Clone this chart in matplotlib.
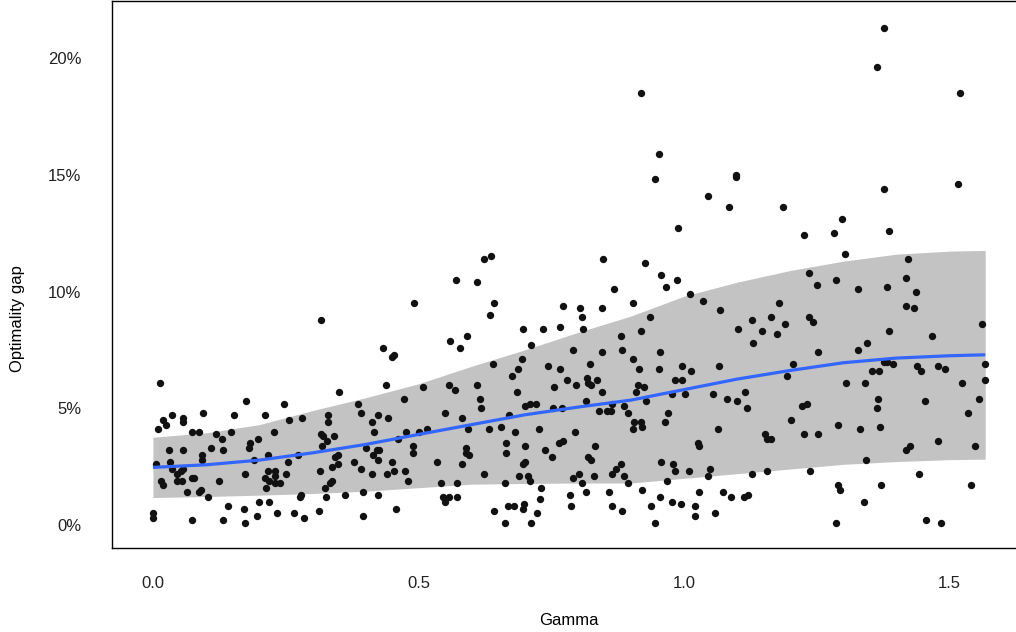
#!/usr/bin/env python

# Optimality gap against gamma, with a smoothed trend and its band

import numpy

import matplotlib
from matplotlib.backends.backend_agg import \
                 FigureCanvasAgg as FigureCanvas
from matplotlib.figure import Figure
from matplotlib.ticker import FuncFormatter

# Individual runs: gamma and optimality gap (%)
gamma = [
    1.377, 1.363, 1.520, 0.918, 0.953, 0.945, 1.098, 1.097, 1.377, 1.515,
    1.046, 1.084, 1.187, 1.298, 1.283, 1.225, 1.385, 0.989, 1.303, 1.422,
    0.847, 0.927, 0.957, 0.987, 0.966, 0.868, 1.011, 1.235, 1.417, 1.251,
    1.287, 1.327, 1.383, 1.437, 1.417, 1.433, 1.035, 1.068, 0.903, 0.846,
    0.804, 0.807, 0.935, 1.178, 1.164, 1.128, 1.190, 1.235, 1.243, 1.102,
    0.918, 0.809, 1.561, 1.146, 1.175, 1.385,
    0.624, 0.637, 0.571, 0.610, 0.492, 0.643, 0.635, 0.316, 0.772, 0.696,
    0.735, 0.766, 0.591,
    0.014, 0.175, 0.247, 0.018, 0.036, 0.057, 0.057, 0.095, 0.025, 0.009,
    0.074, 0.087, 0.118, 0.146, 0.153, 0.211, 0.257, 0.281, 0.227,
    0.559, 0.579, 0.434, 0.450, 0.453, 0.350, 0.439, 0.509, 0.557, 0.569,
    0.611, 0.615, 0.618, 0.472, 0.387, 0.330, 0.330, 0.392, 0.423, 0.412,
    0.443, 0.550, 0.582, 0.593, 0.417, 0.477, 0.501, 0.516, 0.317, 0.341,
    0.881, 0.711, 0.790, 0.845, 0.884, 0.640, 0.694, 0.687, 0.676, 0.743,
    0.766, 0.822, 0.904, 0.915, 0.779, 0.797, 0.817, 0.820, 0.824, 0.837,
    0.755, 0.845, 0.685, 0.913, 0.925, 0.909, 0.928, 0.816, 0.701, 0.709,
    0.722, 0.753, 0.770, 0.864, 0.840, 0.854, 0.863, 0.886, 0.895, 0.670,
    0.906, 0.918, 0.921, 0.903, 0.633, 0.655, 0.681, 0.726, 0.795,
    1.129, 0.954, 1.252, 0.952, 0.996, 1.013, 1.066, 1.206, 1.193, 0.982,
    0.996, 0.977, 1.002, 1.055, 1.080, 1.100, 1.114, 1.118, 1.223, 1.232,
    0.969, 0.965, 1.202, 1.063, 1.152, 1.225, 1.252,
    1.466, 1.345, 1.327, 1.376, 1.382, 1.394, 1.439, 1.446, 1.478, 1.492,
    1.566, 1.353, 1.367, 1.304, 1.341, 1.524, 1.566, 1.366, 1.364, 1.454,
    1.556, 1.534, 1.289, 1.332, 1.368,
    0.130, 0.197, 0.183, 0.180, 0.110, 0.132, 0.031, 0.057, 0.093, 0.093,
    0.217, 0.273, 0.190, 0.255, 0.006, 0.033, 0.035, 0.045, 0.052, 0.057,
    0.174, 0.217, 0.230, 0.250, 0.211, 0.218, 0.230, 0.230, 0.240, 0.045,
    0.055, 0.073, 0.078, 0.125, 0.015, 0.018, 0.213, 0.065, 0.087, 0.090,
    0.104, 0.279, 0.277, 0.199, 0.218, 0.142, 0.171, 0.001, 0.001, 0.074,
    0.131, 0.173, 0.195, 0.233, 0.266, 0.284,
    0.321, 0.328, 0.318, 0.461, 0.402, 0.490, 0.490, 0.589, 0.590, 0.596,
    0.421, 0.426, 0.415, 0.424, 0.343, 0.349, 0.378, 0.450, 0.535, 0.581,
    0.338, 0.348, 0.391, 0.315, 0.413, 0.441, 0.454, 0.475, 0.480, 0.623,
    0.334, 0.338, 0.324, 0.543, 0.572, 0.395, 0.362, 0.424, 0.325, 0.546,
    0.557, 0.572, 0.549, 0.313, 0.457, 0.395,
    0.665, 0.665, 0.701, 0.738, 0.752, 0.765, 0.772, 0.832, 0.819, 0.825,
    0.696, 0.700, 0.690, 0.707, 0.709, 0.790, 0.802, 0.807, 0.831, 0.865,
    0.871, 0.881, 0.886, 0.894, 0.662, 0.731, 0.728, 0.785, 0.816, 0.859,
    0.921, 0.643, 0.669, 0.679, 0.698, 0.696, 0.724, 0.788, 0.865, 0.883,
    0.937, 0.662, 0.711, 0.945,
    1.157, 1.164, 1.027, 1.029, 0.957, 0.980, 0.982, 1.009, 1.048, 1.046,
    1.128, 1.156, 1.238, 0.967, 0.955, 0.978, 0.995, 1.021, 1.029, 1.073,
    1.089, 1.112, 1.121, 1.020, 1.059,
    1.478, 1.425, 1.417, 1.548, 1.342, 1.442, 1.290, 1.293, 1.370, 1.541,
    1.338, 1.287, 1.456, 1.483,
]
gap = [
    21.3, 19.6, 18.5, 18.5, 15.9, 14.8, 15.0, 14.9, 14.4, 14.6,
    14.1, 13.6, 13.6, 13.1, 12.5, 12.4, 12.6, 12.7, 11.6, 11.4,
    11.4, 11.2, 10.7, 10.5, 10.2, 10.1, 9.9, 10.8, 10.6, 10.3,
    10.5, 10.1, 10.2, 10.0, 9.4, 9.3, 9.6, 9.2, 9.5, 9.3,
    9.3, 8.9, 8.9, 9.5, 8.9, 8.8, 8.6, 8.9, 8.7, 8.4,
    8.3, 8.4, 8.6, 8.3, 8.2, 8.3,
    11.4, 11.5, 10.5, 10.4, 9.5, 9.5, 9.0, 8.8, 9.4, 8.4,
    8.4, 8.5, 8.1,
    6.1, 5.3, 5.2, 4.5, 4.7, 4.6, 4.4, 4.8, 4.3, 4.1,
    4.0, 4.0, 3.9, 4.0, 4.7, 4.7, 4.5, 4.6, 4.0,
    7.9, 7.6, 7.6, 7.2, 7.3, 5.7, 6.0, 5.9, 6.0, 5.8,
    6.0, 5.4, 5.0, 5.4, 5.2, 4.7, 4.4, 4.8, 4.7, 4.4,
    4.6, 4.8, 4.6, 4.1, 4.0, 4.0, 4.0, 4.1, 3.9, 3.8,
    8.1, 7.7, 7.5, 7.4, 7.5, 6.9, 7.1, 6.7, 6.4, 6.8,
    6.7, 6.9, 7.1, 6.7, 6.2, 6.0, 6.3, 6.1, 6.0, 6.2,
    5.9, 5.7, 5.7, 6.0, 5.9, 5.7, 5.3, 5.3, 5.1, 5.2,
    5.2, 5.0, 5.0, 5.2, 4.9, 4.9, 4.9, 5.1, 4.8, 4.7,
    4.4, 4.4, 4.2, 4.1, 4.1, 4.2, 4.0, 4.1, 4.0,
    7.8, 7.4, 7.4, 6.7, 6.8, 6.6, 6.8, 6.9, 6.4, 6.2,
    6.2, 5.6, 5.6, 5.6, 5.4, 5.3, 5.7, 5.0, 5.1, 5.2,
    4.8, 4.4, 4.5, 4.1, 3.9, 3.9, 3.9,
    8.1, 7.8, 7.5, 7.0, 7.0, 6.9, 6.8, 6.6, 6.8, 6.7,
    6.9, 6.6, 6.6, 6.1, 6.1, 6.1, 6.2, 5.4, 5.0, 5.3,
    5.4, 4.8, 4.3, 4.1, 4.2,
    3.7, 3.7, 3.5, 3.3, 3.3, 3.2, 3.2, 3.2, 3.0, 2.8,
    3.0, 3.0, 2.8, 2.7, 2.6, 2.7, 2.4, 2.2, 2.3, 2.4,
    2.2, 2.3, 2.3, 2.2, 2.0, 1.9, 2.1, 1.8, 1.8, 1.9,
    1.9, 2.0, 2.0, 1.9, 1.9, 1.7, 1.6, 1.4, 1.4, 1.5,
    1.2, 1.3, 1.2, 1.0, 1.0, 0.8, 0.7, 0.5, 0.3, 0.2,
    0.2, 0.1, 0.4, 0.5, 0.5, 0.3,
    3.8, 3.6, 3.4, 3.7, 3.3, 3.4, 3.1, 3.3, 3.1, 3.0,
    3.2, 3.2, 3.0, 2.8, 2.9, 3.0, 2.7, 2.7, 2.7, 2.6,
    2.5, 2.6, 2.4, 2.3, 2.2, 2.2, 2.3, 2.3, 1.9, 2.2,
    1.8, 1.9, 1.6, 1.8, 1.8, 1.4, 1.3, 1.3, 1.2, 1.2,
    1.2, 1.2, 1.0, 0.6, 0.7, 0.4,
    3.5, 3.1, 3.4, 3.2, 2.9, 3.5, 3.6, 3.4, 2.9, 2.8,
    2.6, 2.7, 2.1, 2.1, 1.9, 2.0, 2.2, 1.8, 2.1, 2.2,
    2.4, 2.6, 2.1, 1.8, 1.8, 1.6, 1.1, 1.3, 1.4, 1.4,
    1.5, 0.6, 0.8, 0.8, 0.9, 0.7, 0.5, 0.8, 0.8, 0.6,
    0.8, 0.1, 0.1, 0.1,
    3.7, 3.7, 3.5, 3.4, 2.7, 2.6, 2.3, 2.3, 2.4, 2.1,
    2.2, 2.3, 2.3, 1.9, 1.2, 1.0, 0.9, 0.8, 1.4, 1.4,
    1.2, 1.2, 1.3, 0.4, 0.5,
    3.6, 3.4, 3.2, 3.4, 2.8, 2.2, 1.7, 1.5, 1.7, 1.7,
    1.0, 0.1, 0.2, 0.1,
]

# Smoothed trend and its band (%)
smooth_gamma = [0.0, 0.1, 0.2, 0.3, 0.4, 0.5, 0.6, 0.7, 0.8,
                0.9, 1.0, 1.1, 1.2, 1.3, 1.4, 1.5, 1.567]
smooth_fit = [2.47, 2.58, 2.78, 3.09, 3.45, 3.88, 4.3, 4.72, 5.05,
              5.35, 5.8, 6.25, 6.62, 6.95, 7.15, 7.25, 7.29]
smooth_lower = [1.18, 1.22, 1.28, 1.35, 1.45, 1.6, 1.75, 1.78, 1.8,
                1.8, 2.0, 2.2, 2.4, 2.6, 2.72, 2.8, 2.82]
smooth_upper = [3.76, 3.95, 4.3, 4.9, 5.45, 6.05, 6.8, 7.5, 8.25,
                8.95, 9.8, 10.4, 10.9, 11.3, 11.6, 11.73, 11.76]

x_ticks = [0.0, 0.5, 1.0, 1.5]
y_ticks = [0, 5, 10, 15, 20]

fig=Figure(figsize=(10.16,6.32),
           dpi=100,
           facecolor='white')
canvas=FigureCanvas(fig)
font = {'family' : 'sans-serif',
        'sans-serif' : ['Liberation Sans','DejaVu Sans'],
        'size'   : 12}
matplotlib.rc('font', **font)

ax=fig.add_axes([0.1102,0.1329,0.8898,0.8655])
ax.set_xlim(-0.0772,1.625)
ax.set_ylim(-0.983,22.44)

# Band, then points, then the trend line
ax.fill_between(smooth_gamma,smooth_lower,smooth_upper,
                color='#c3c3c3',linewidth=0,zorder=1)
ax.scatter(gamma,gap,s=28,c='#111111',linewidths=0,zorder=2)
ax.plot(smooth_gamma,smooth_fit,color='#3366ff',linewidth=2.3,
        solid_capstyle='butt',zorder=3)

ax.set_xticks(x_ticks)
ax.set_xticklabels(['%.1f' % t for t in x_ticks])
ax.set_yticks(y_ticks)
ax.yaxis.set_major_formatter(FuncFormatter(lambda v,p: '%d%%' % v))
ax.tick_params(length=0,pad=20,labelsize=12,colors='#222222')
ax.tick_params(axis='y',pad=22)

ax.set_xlabel('Gamma')
ax.set_ylabel('Optimality gap')
ax.xaxis.set_label_coords(0.505,-0.119)
ax.yaxis.set_label_coords(-0.096,0.42)

for side in ['left','bottom','top']:
    ax.spines[side].set_linewidth(1.0)
    ax.spines[side].set_color('black')
ax.spines['right'].set_visible(False)

fig.savefig('out.png')
